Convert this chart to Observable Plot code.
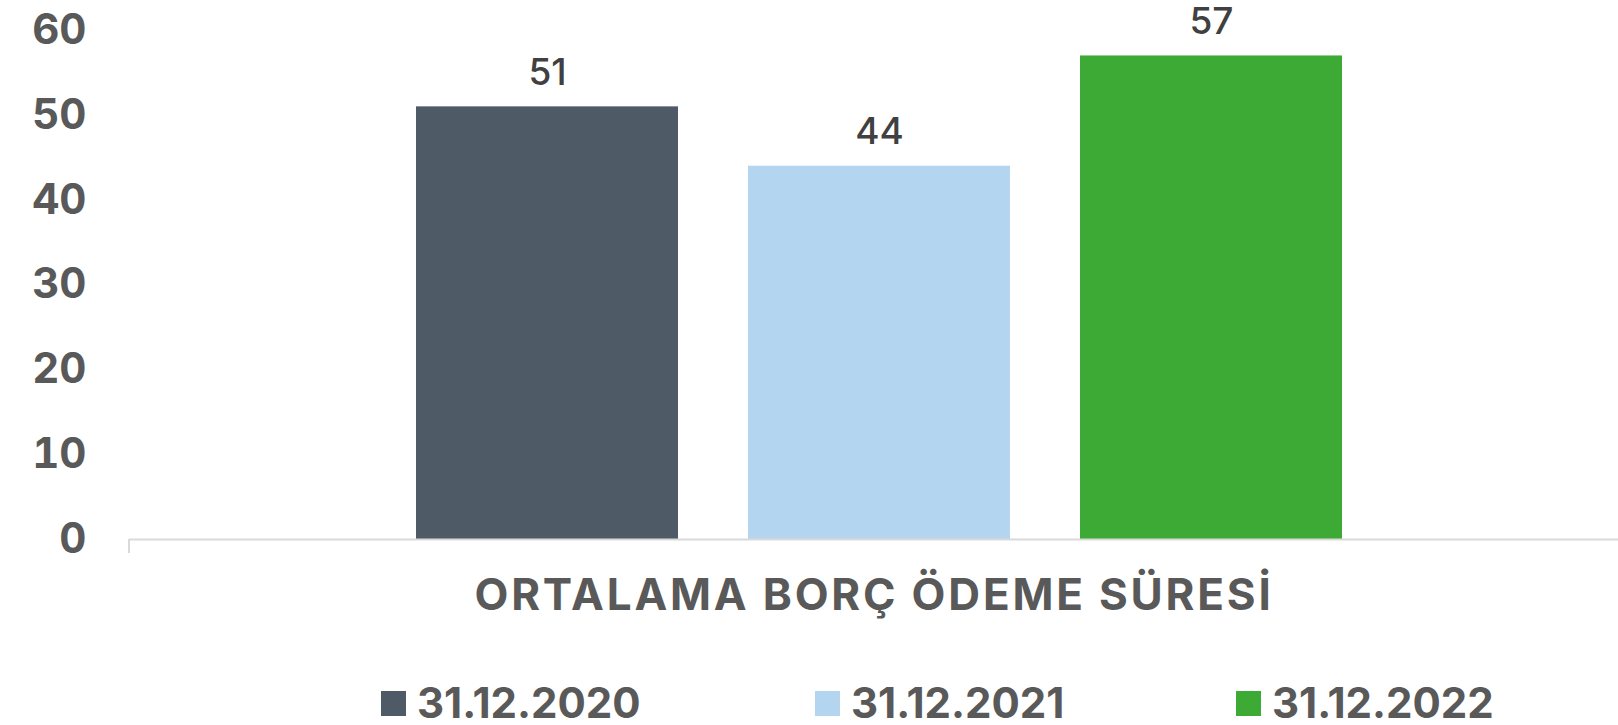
<!DOCTYPE html>
<html>
<head>
<meta charset="utf-8">
<script src="https://cdn.jsdelivr.net/npm/d3@7"></script>
<script src="https://cdn.jsdelivr.net/npm/@observablehq/plot@0.6"></script>
<style>
  html, body { margin: 0; padding: 0; background: #fff; }
  body { width: 1618px; height: 725px; overflow: hidden; font-family: Inter, "Open Sans", sans-serif; }
  #legend { display: flex; align-items: center; margin-left: 381px; margin-top: 53px; height: 40px; }
  .item { display: flex; align-items: center; font-weight: 700; font-size: 42px; line-height: 40px; color: #595959; }
  .sw { width: 25px; height: 25px; margin-right: 11px; flex: none; }
  g[aria-label="fx-axis tick label"] text { letter-spacing: 2.8px; }
</style>
</head>
<body>
<div id="chart"></div>
<div id="legend"></div>
<script>
const categories = ["ORTALAMA BORÇ ÖDEME SÜRESİ"];
const seriesNames = ["31.12.2020", "31.12.2021", "31.12.2022"];
const seriesValues = [51, 44, 57];
const seriesColors = ["#4e5b66", "#b3d5f0", "#3caa35"];
const yTicks = [0, 10, 20, 30, 40, 50, 60];

const data = seriesNames.map((s, i) => ({category: categories[0], series: s, value: seriesValues[i]}));

// small category-boundary tick at the left end of the baseline
const leftTick = (index, scales, values, dimensions) => {
  const y0 = scales.y(0);
  const x0 = dimensions.marginLeft;
  const line = document.createElementNS("http://www.w3.org/2000/svg", "line");
  line.setAttribute("x1", x0); line.setAttribute("x2", x0);
  line.setAttribute("y1", y0); line.setAttribute("y2", y0 + 14);
  line.setAttribute("stroke", "#d9d9d9"); line.setAttribute("stroke-width", 2);
  return line;
};

const chart = Plot.plot({
  width: 1618,
  height: 630,
  marginLeft: 129,
  marginRight: 0,
  marginTop: 30,
  marginBottom: 91,
  style: {fontFamily: "Inter, 'Open Sans', sans-serif", color: "#595959", background: "#fff", overflow: "visible"},
  fx: {domain: categories, padding: 0, label: null, axis: null},
  x: {domain: seriesNames, paddingInner: 0.21, paddingOuter: 0.847, align: 0.51, axis: null},
  y: {domain: [0, 60], axis: null},
  color: {domain: seriesNames, range: seriesColors},
  marks: [
    Plot.axisY({ticks: yTicks, tickSize: 0, tickPadding: 43, label: null, fontSize: 42, fontWeight: 700, fill: "#595959"}),
    Plot.axisFx({anchor: "bottom", tickSize: 0, tickPadding: 39, label: null, fontSize: 44, fontWeight: 700, fill: "#595959"}),
    Plot.barY(data, {fx: "category", x: "series", y: "value", fill: "series"}),
    Plot.ruleY([0], {stroke: "#d9d9d9", strokeWidth: 2}),
    leftTick,
    Plot.text(data, {fx: "category", x: "series", y: "value", text: d => String(d.value), dy: -34, fontSize: 37, fontWeight: 500, fill: "#404040"})
  ]
});
document.getElementById("chart").appendChild(chart);

const legend = document.getElementById("legend");
const widths = [434, 421, null];
seriesNames.forEach((s, i) => {
  const it = document.createElement("div");
  it.className = "item";
  if (widths[i]) it.style.width = widths[i] + "px";
  const sw = document.createElement("span");
  sw.className = "sw";
  sw.style.background = seriesColors[i];
  const t = document.createElement("span");
  t.textContent = s;
  it.appendChild(sw);
  it.appendChild(t);
  legend.appendChild(it);
});
</script>
</body>
</html>
